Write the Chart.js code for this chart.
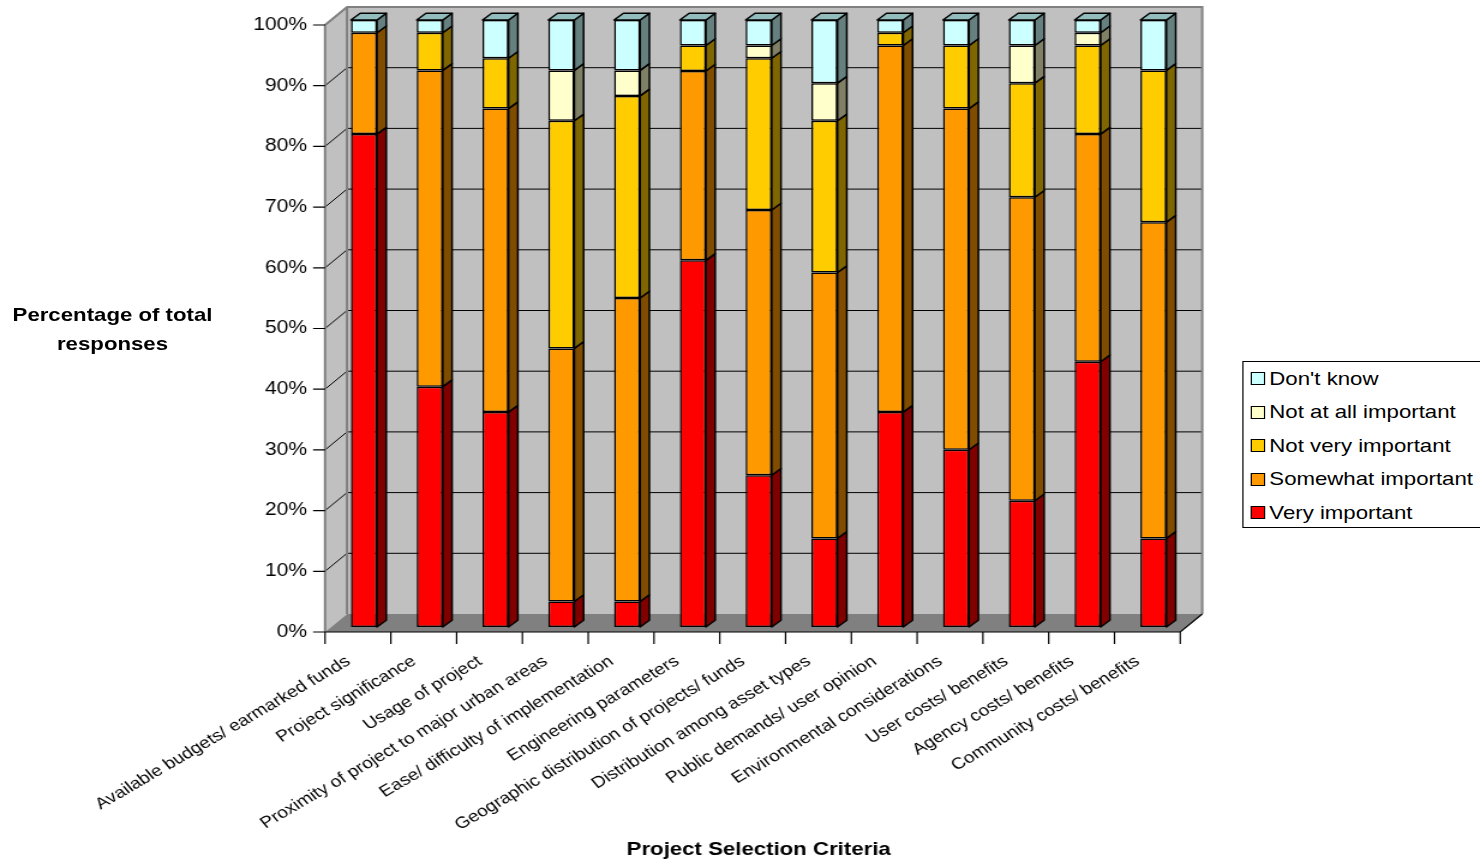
<!DOCTYPE html>
<html>
<head>
<meta charset="utf-8">
<script src="https://cdn.jsdelivr.net/npm/chart.js@4.4.1/dist/chart.umd.min.js"></script>
<style>
  html, body { margin: 0; padding: 0; background: #fff; overflow: hidden; width: 1480px; height: 867px; }
  #stage { position: absolute; left: 0; top: 0; width: 1233px; height: 867px;
           transform: scaleX(1.20032); transform-origin: 0 0;
           font-family: "Liberation Sans", Arial, sans-serif; color: #000; }
  #chart { position: absolute; left: 0; top: 0; }
  #ytitle { position: absolute; left: 0; top: 301px; width: 187.5px; text-align: center;
            font-weight: bold; font-size: 18.5px; line-height: 28.5px; }
  #legend { position: absolute; left: 1035px; top: 361px; width: 260px; height: 167px;
            border: 1px solid #000; box-sizing: border-box; background: #fff; }
  .item { display: flex; align-items: center; height: 33.5px; font-size: 18.5px; white-space: nowrap; }
  .sw { width: 12px; height: 13.4px; box-sizing: border-box; border: 1.3px solid #000; margin-left: 5.7px; margin-right: 3.8px; }
</style>
</head>
<body>
<div id="stage">
  <canvas id="chart" width="1233" height="867"></canvas>
  <div id="ytitle">Percentage of total<br>responses</div>
  <div id="legend"></div>
</div>
<script>
// Survey criteria along the category axis
const categories = [
  'Available budgets/ earmarked funds',
  'Project significance',
  'Usage of project',
  'Proximity of project to major urban areas',
  'Ease/ difficulty of implementation',
  'Engineering parameters',
  'Geographic distribution of projects/ funds',
  'Distribution among asset types',
  'Public demands/ user opinion',
  'Environmental considerations',
  'User costs/ benefits',
  'Agency costs/ benefits',
  'Community costs/ benefits'
];

// Share of responses (%) per rating
const veryImportant     = [81.2, 39.6, 35.4, 4.2, 4.2, 60.4, 25.0, 14.6, 35.4, 29.2, 20.8, 43.7, 14.6];
const somewhatImportant = [16.7, 52.1, 50.0, 41.7, 50.0, 31.2, 43.7, 43.8, 60.4, 56.2, 50.0, 37.5, 52.1];
const notVeryImportant  = [0, 6.2, 8.3, 37.5, 33.3, 4.2, 25.0, 25.0, 2.1, 10.4, 18.8, 14.6, 25.0];
const notAtAllImportant = [0, 0, 0, 8.3, 4.2, 0, 2.1, 6.2, 0, 0, 6.2, 2.1, 0];
const dontKnow          = [2.1, 2.1, 6.3, 8.3, 8.3, 4.2, 4.2, 10.4, 2.1, 4.2, 4.2, 2.1, 8.3];

const yTickLabels = ['0%', '10%', '20%', '30%', '40%', '50%', '60%', '70%', '80%', '90%', '100%'];

const seriesNames = ['Very important', 'Somewhat important', 'Not very important', 'Not at all important', "Don't know"];
const seriesData  = [veryImportant, somewhatImportant, notVeryImportant, notAtAllImportant, dontKnow];
const frontColors = ['#FF0000', '#FF9900', '#FFCC00', '#FFFFCC', '#CCFFFF'];
const sideColors  = ['#800000', '#7F4C00', '#806600', '#808066', '#668080'];
const topColors   = ['#C00000', '#C07300', '#C09900', '#C0C099', '#93BDBD'];

const FONT = '"Liberation Sans", Arial, sans-serif';

// 3D look: bar depth, wall depth, and offsets of the front axes relative to the bar faces
const BAR_DX = 7.75, BAR_DY = -6.7;
const WALL_DX = 18.3;
const FRONT_X = -5;   // front axis edge vs category edge
const FRONT_Y = 5;    // front axis vs bar face (vertical)
const BACK_Y = -13;   // back wall vs bar face (vertical)

const box3d = {
  id: 'box3d',
  beforeDatasetsDraw(chart) {
    const ctx = chart.ctx, x = chart.scales.x, y = chart.scales.y;
    const fL = x.left + FRONT_X, fR = x.right + FRONT_X;
    const bL = fL + WALL_DX, bR = fR + WALL_DX;
    const yf = v => y.getPixelForValue(v) + FRONT_Y;
    const yw = v => y.getPixelForValue(v) + BACK_Y;
    ctx.save();
    // back wall
    ctx.fillStyle = '#C0C0C0';
    ctx.fillRect(bL, yw(100), bR - bL, yw(0) - yw(100));
    // side wall
    ctx.beginPath();
    ctx.moveTo(fL, yf(100)); ctx.lineTo(bL, yw(100)); ctx.lineTo(bL, yw(0)); ctx.lineTo(fL, yf(0));
    ctx.closePath(); ctx.fill();
    // floor
    ctx.fillStyle = '#808080';
    ctx.beginPath();
    ctx.moveTo(fL, yf(0)); ctx.lineTo(bL, yw(0)); ctx.lineTo(bR, yw(0)); ctx.lineTo(fR, yf(0));
    ctx.closePath(); ctx.fill();
    // gridlines on back and side wall
    ctx.strokeStyle = '#000'; ctx.lineWidth = 1;
    for (let v = 10; v < 100; v += 10) {
      ctx.beginPath();
      ctx.moveTo(fL, yf(v)); ctx.lineTo(bL, yw(v)); ctx.lineTo(bR, yw(v));
      ctx.stroke();
    }
    // wall outlines
    ctx.strokeStyle = '#808080'; ctx.lineWidth = 2;
    ctx.beginPath();
    ctx.moveTo(fL, yf(0)); ctx.lineTo(fL, yf(100)); ctx.lineTo(bL, yw(100)); ctx.lineTo(bR, yw(100)); ctx.lineTo(bR, yw(0));
    ctx.moveTo(bL, yw(100)); ctx.lineTo(bL, yw(0));
    ctx.stroke();
    // front axes
    ctx.strokeStyle = '#000'; ctx.lineWidth = 1.2;
    ctx.beginPath();
    ctx.moveTo(fL, yf(0)); ctx.lineTo(fR, yf(0)); ctx.lineTo(bR, yw(0));
    for (let v = 0; v <= 100; v += 10) { ctx.moveTo(fL - 10, yf(v)); ctx.lineTo(fL, yf(v)); }
    const n = categories.length, step = (x.right - x.left) / n;
    for (let i = 0; i <= n; i++) {
      const px = fL + i * step;
      ctx.moveTo(px, yf(0)); ctx.lineTo(px, yf(0) + 12);
    }
    ctx.stroke();
    ctx.restore();
  },
  afterDatasetsDraw(chart) {
    const ctx = chart.ctx;
    const metas = chart.data.datasets.map((d, i) => chart.getDatasetMeta(i));
    ctx.save();
    ctx.lineWidth = 1.5; ctx.strokeStyle = '#000'; ctx.lineJoin = 'round';
    categories.forEach((c, i) => {
      let topDs = -1;
      seriesData.forEach((s, d) => { if (s[i] > 0) topDs = d; });
      seriesData.forEach((s, d) => {
        if (!(s[i] > 0)) return;
        const el = metas[d].data[i];
        const p = el.getProps(['x', 'y', 'base', 'width'], true);
        const l = p.x - p.width / 2, r = p.x + p.width / 2;
        const t = Math.min(p.y, p.base), b = Math.max(p.y, p.base);
        ctx.fillStyle = sideColors[d];
        ctx.beginPath();
        ctx.moveTo(r, t); ctx.lineTo(r + BAR_DX, t + BAR_DY); ctx.lineTo(r + BAR_DX, b + BAR_DY); ctx.lineTo(r, b);
        ctx.closePath(); ctx.fill(); ctx.stroke();
        if (d === topDs) {
          ctx.fillStyle = topColors[d];
          ctx.beginPath();
          ctx.moveTo(l, t); ctx.lineTo(l + BAR_DX, t + BAR_DY); ctx.lineTo(r + BAR_DX, t + BAR_DY); ctx.lineTo(r, t);
          ctx.closePath(); ctx.fill(); ctx.stroke();
        }
      });
    });
    ctx.restore();
  }
};

const datasets = seriesNames.map((name, d) => ({
  label: name,
  data: seriesData[d],
  backgroundColor: frontColors[d],
  borderColor: '#000',
  borderWidth: 1.5,
  borderSkipped: false,
  barPercentage: 0.396,
  categoryPercentage: 1
}));

new Chart(document.getElementById('chart'), {
  type: 'bar',
  data: { labels: categories, datasets },
  plugins: [box3d],
  options: {
    responsive: false,
    animation: false,
    devicePixelRatio: 1,
    layout: { padding: { top: 20, right: 244.7, bottom: 0, left: 0 } },
    plugins: { legend: { display: false }, tooltip: { enabled: false } },
    scales: {
      x: {
        stacked: true,
        grid: { display: false, drawTicks: false },
        border: { display: false },
        ticks: { autoSkip: false, minRotation: 35, maxRotation: 35, padding: 25, labelOffset: -13,
                 color: '#000', font: { family: FONT, size: 16 } },
        title: { display: true, text: 'Project Selection Criteria', color: '#000',
                 font: { family: FONT, size: 18.5, weight: 'bold' }, padding: { top: 0, bottom: 6 } },
        afterFit(s) { s.height = 240; }
      },
      y: {
        stacked: true, min: 0, max: 100,
        grid: { display: false, drawTicks: false },
        border: { display: false },
        ticks: { stepSize: 10, padding: 20, labelOffset: FRONT_Y, color: '#000',
                 font: { family: FONT, size: 17.5 },
                 callback: (v, i) => yTickLabels[i] },
        afterFit(s) { s.width = 275.8; s.paddingTop = 0; s.paddingBottom = 0; }
      }
    }
  }
});

// Legend, listed from the top of the stack down
const legend = document.getElementById('legend');
for (let d = seriesNames.length - 1; d >= 0; d--) {
  const row = document.createElement('div');
  row.className = 'item';
  const sw = document.createElement('div');
  sw.className = 'sw';
  sw.style.background = frontColors[d];
  const tx = document.createElement('span');
  tx.textContent = seriesNames[d];
  row.appendChild(sw); row.appendChild(tx);
  legend.appendChild(row);
}
</script>
</body>
</html>
